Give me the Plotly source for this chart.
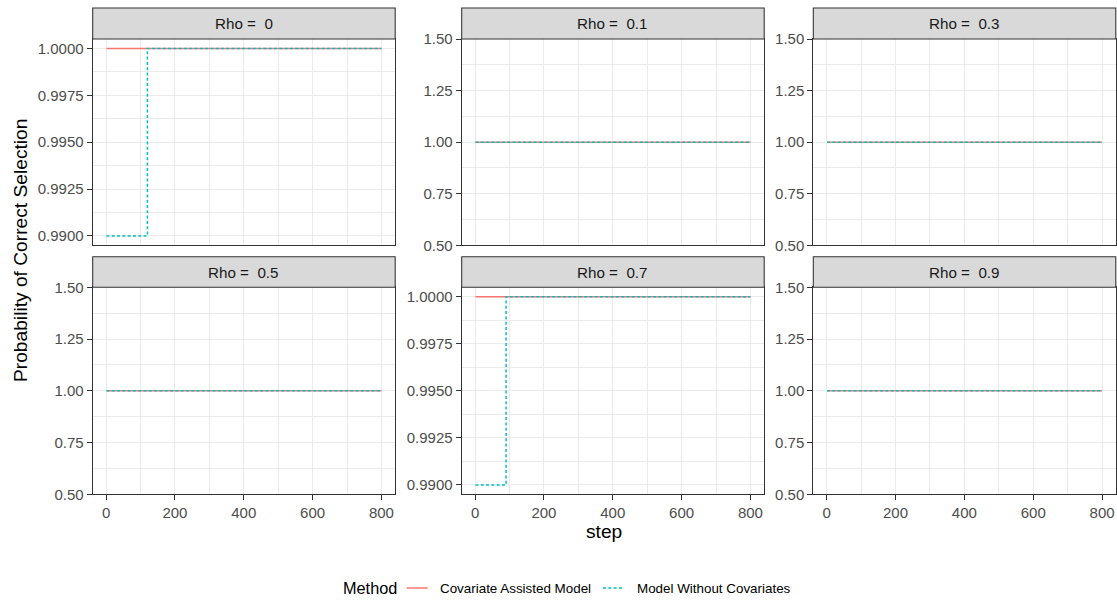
import numpy as np
import plotly.graph_objects as go

# ---------------- data ----------------
rho_labels = ["0", "0.1", "0.3", "0.5", "0.7", "0.9"]
steps = [1, 90, 120, 800]
prob_covariate_assisted = [
    [1.0, 1.0, 1.0, 1.0],   # rho 0
    [1.0, 1.0, 1.0, 1.0],   # rho 0.1
    [1.0, 1.0, 1.0, 1.0],   # rho 0.3
    [1.0, 1.0, 1.0, 1.0],   # rho 0.5
    [1.0, 1.0, 1.0, 1.0],   # rho 0.7
    [1.0, 1.0, 1.0, 1.0],   # rho 0.9
]
prob_without_covariates = [
    [0.99, 0.99, 1.0, 1.0],  # rho 0
    [1.0, 1.0, 1.0, 1.0],    # rho 0.1
    [1.0, 1.0, 1.0, 1.0],    # rho 0.3
    [1.0, 1.0, 1.0, 1.0],    # rho 0.5
    [0.99, 1.0, 1.0, 1.0],   # rho 0.7
    [1.0, 1.0, 1.0, 1.0],    # rho 0.9
]
method_names = ["Covariate Assisted Model", "Model Without Covariates"]
x_ticks = [0, 200, 400, 600, 800]
x_minor = [100, 300, 500, 700]

# ---------------- style ----------------
W, H = 1117, 601
FONT = "Liberation Sans"
RED = "#F8766D"
TEAL = "#00BFC4"
DOT = "3px,2.3px"
GRID = "#EBEBEB"
BORDER = "#333333"
TICK_SIZE = 15.0
STRIP_SIZE = 15.2
TITLE_SIZE = 19.2
LW = 1.5

col_left = [92.7, 461.7, 813.3]
col_w = 302.5
row_panel = [(39.0, 245.3), (287.3, 494.3)]
row_strip = [(8.0, 39.0), (256.7, 287.3)]


def px(x):
    return x / W


def py(y):
    return 1 - y / H


fig = go.Figure()
layout = dict(
    width=W, height=H, autosize=False,
    margin=dict(l=0, r=0, t=0, b=0, pad=0),
    paper_bgcolor="white", plot_bgcolor="white",
    showlegend=False,
    font=dict(family=FONT, color="#000000"),
    shapes=[], annotations=[],
)

xmin, xmax = min(steps), max(steps)
xd = xmax - xmin
xrange = [xmin - 0.05 * xd, xmax + 0.05 * xd]

for i, rho in enumerate(rho_labels):
    r, c = divmod(i, 3)
    k = "" if i == 0 else str(i + 1)
    xname, yname = "x" + k, "y" + k
    x0 = col_left[c]
    x1 = x0 + col_w
    top, bot = row_panel[r]

    yc = prob_covariate_assisted[i]
    yw = prob_without_covariates[i]
    lo = min(min(yc), min(yw))
    hi = max(max(yc), max(yw))
    if hi - lo == 0:
        yrange = [lo - 0.5, hi + 0.5]
        yt = list(np.arange(lo - 0.5, hi + 0.5 + 1e-9, 0.25))
        fmt = ".2f"
    else:
        d = hi - lo
        yrange = [lo - 0.05 * d, hi + 0.05 * d]
        yt = list(np.arange(lo, hi + 1e-12, d / 4))
        fmt = ".4f"
    ymin_ticks = [(yt[j] + yt[j + 1]) / 2 for j in range(len(yt) - 1)]

    fig.add_trace(go.Scatter(
        x=steps, y=yc, mode="lines", line_shape="hv",
        line=dict(color=RED, width=LW),
        name=method_names[0], xaxis=xname, yaxis=yname, hoverinfo="skip"))
    fig.add_trace(go.Scatter(
        x=steps, y=yw, mode="lines", line_shape="hv",
        line=dict(color=TEAL, width=LW, dash=DOT),
        name=method_names[1], xaxis=xname, yaxis=yname, hoverinfo="skip"))

    layout["xaxis" + k] = dict(
        domain=[px(x0), px(x1)], anchor=yname, range=xrange, automargin=False,
        tickvals=x_ticks, ticktext=[str(v) for v in x_ticks],
        showticklabels=(r == 1), ticks="outside" if r == 1 else "",
        ticklen=5, tickwidth=1.07, tickcolor=BORDER,
        tickfont=dict(family=FONT, size=TICK_SIZE, color="#4D4D4D"),
        showgrid=True, gridcolor=GRID, gridwidth=1.07, zeroline=False,
        minor=dict(tickvals=x_minor, showgrid=True, gridcolor=GRID, gridwidth=0.53, ticks=""),
        showline=True, mirror=True, linecolor=BORDER, linewidth=1.07,
    )
    layout["yaxis" + k] = dict(
        domain=[py(bot), py(top)], anchor=xname, range=yrange, automargin=False,
        tickvals=yt, tickformat=fmt,
        ticks="outside", ticklen=5, tickwidth=1.07, tickcolor=BORDER,
        tickfont=dict(family=FONT, size=TICK_SIZE, color="#4D4D4D"),
        showgrid=True, gridcolor=GRID, gridwidth=1.07, zeroline=False,
        minor=dict(tickvals=ymin_ticks, showgrid=True, gridcolor=GRID, gridwidth=0.53, ticks=""),
        showline=True, mirror=True, linecolor=BORDER, linewidth=1.07,
    )

    st, sb = row_strip[r]
    layout["shapes"].append(dict(
        type="rect", xref="paper", yref="paper",
        x0=px(x0), x1=px(x1), y0=py(sb), y1=py(st),
        fillcolor="#D9D9D9", line=dict(color=BORDER, width=1.07), layer="above"))
    layout["annotations"].append(dict(
        text="Rho =  " + rho, xref="paper", yref="paper",
        x=px((x0 + x1) / 2), y=py((st + sb) / 2), showarrow=False,
        xanchor="center", yanchor="middle",
        font=dict(family=FONT, size=STRIP_SIZE, color="#1A1A1A")))

# axis titles
layout["annotations"].append(dict(
    text="step", xref="paper", yref="paper", x=px(604), y=py(531),
    showarrow=False, xanchor="center", yanchor="middle",
    font=dict(family=FONT, size=TITLE_SIZE, color="#000000")))
layout["annotations"].append(dict(
    text="Probability of Correct Selection", xref="paper", yref="paper",
    x=px(20), y=py(251), textangle=-90, showarrow=False,
    xanchor="center", yanchor="middle",
    font=dict(family=FONT, size=TITLE_SIZE, color="#000000")))

# legend (drawn manually to mimic ggplot bottom legend)
ly = py(588)
layout["annotations"].append(dict(
    text="Method", xref="paper", yref="paper", x=px(340.7), y=ly,
    showarrow=False, xanchor="left", yanchor="middle",
    font=dict(family=FONT, size=16.3, color="#000000")))
layout["shapes"].append(dict(
    type="line", xref="paper", yref="paper", x0=px(406.7), x1=px(427.7), y0=ly, y1=ly,
    line=dict(color=RED, width=LW)))
layout["annotations"].append(dict(
    text=method_names[0], xref="paper", yref="paper", x=px(438), y=ly,
    showarrow=False, xanchor="left", yanchor="middle",
    font=dict(family=FONT, size=13.4, color="#000000")))
layout["shapes"].append(dict(
    type="line", xref="paper", yref="paper", x0=px(603), x1=px(624), y0=ly, y1=ly,
    line=dict(color=TEAL, width=LW, dash=DOT)))
layout["annotations"].append(dict(
    text=method_names[1], xref="paper", yref="paper", x=px(635), y=ly,
    showarrow=False, xanchor="left", yanchor="middle",
    font=dict(family=FONT, size=13.4, color="#000000")))

fig.update_layout(**layout)
fig.write_html(
    "out.html",
    config={"responsive": False, "displayModeBar": False},
    post_script="document.body.style.margin='0';document.body.style.overflow='hidden';",
)
